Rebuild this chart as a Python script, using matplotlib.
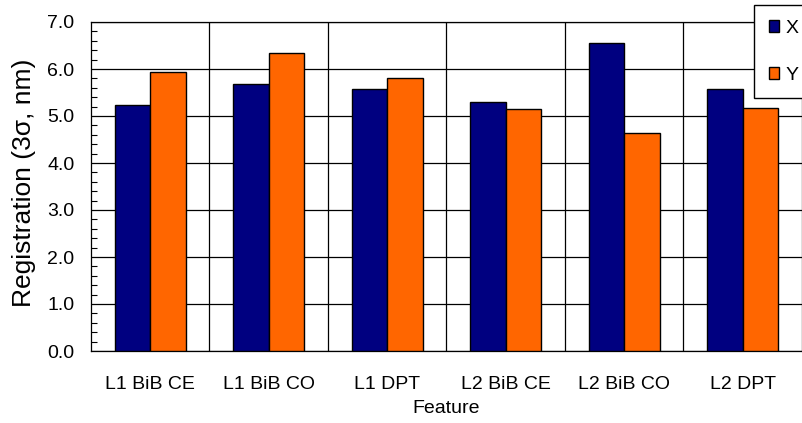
import matplotlib
matplotlib.use("Agg")
import matplotlib.pyplot as plt
from matplotlib.ticker import MultipleLocator
import numpy as np

plt.rcParams['font.family'] = ['Liberation Sans', 'DejaVu Sans']

# data
features = ['L1 BiB CE', 'L1 BiB CO', 'L1 DPT', 'L2 BiB CE', 'L2 BiB CO', 'L2 DPT']
reg_x = [5.23, 5.69, 5.57, 5.30, 6.56, 5.57]
reg_y = [5.93, 6.35, 5.80, 5.15, 4.64, 5.18]
y_ticks = [0.0, 1.0, 2.0, 3.0, 4.0, 5.0, 6.0, 7.0]

fig = plt.figure(figsize=(8.03, 4.23), dpi=100)
ax = fig.add_axes([91 / 803, 1 - 351 / 423, 711 / 803, 329 / 423])

pos = np.arange(len(features))
w = 0.3
ax.bar(pos - w / 2, reg_x, w, color='#000080', edgecolor='black', linewidth=1, label='X', zorder=3)
ax.bar(pos + w / 2, reg_y, w, color='#FF6600', edgecolor='black', linewidth=1, label='Y', zorder=3)

ax.set_xlim(-0.5, len(features) - 0.5)
ax.set_ylim(0, 7)
ax.set_yticks(y_ticks)
ax.set_yticklabels([f'{v:.1f}' for v in y_ticks], fontsize=14)
ax.yaxis.set_minor_locator(MultipleLocator(0.2))
ax.tick_params(axis='y', which='both', direction='in', pad=12)
ax.tick_params(axis='y', which='minor', length=4, width=0.8)
ax.tick_params(axis='y', which='major', length=0)

ax.set_xticks(pos)
ax.set_xticklabels(features, fontsize=14)
ax.tick_params(axis='x', length=0, pad=18)

# grid: horizontal at majors, vertical between categories
for v in y_ticks:
    ax.axhline(v, color='black', linewidth=0.9, zorder=1)
for b in np.arange(0.5, len(features) - 0.5, 1.0):
    ax.axvline(b, color='black', linewidth=0.9, zorder=1)

for s in ax.spines.values():
    s.set_color('black')
    s.set_linewidth(0.9)

ax.set_xlabel('Feature', fontsize=14, labelpad=5)
ax.set_ylabel('Registration (3σ, nm)', fontsize=19)
ax.yaxis.set_label_coords(-0.077, 0.51)

leg = fig.legend(loc='upper left', bbox_to_anchor=(754 / 803, 1 - 5 / 423),
                 fontsize=14, frameon=True, fancybox=False, edgecolor='black',
                 framealpha=1, borderpad=0.75, labelspacing=1.55,
                 handlelength=0.55, handleheight=0.55, handletextpad=0.3,
                 borderaxespad=0)
leg.get_frame().set_linewidth(1)

fig.savefig('out.png', dpi=100)
